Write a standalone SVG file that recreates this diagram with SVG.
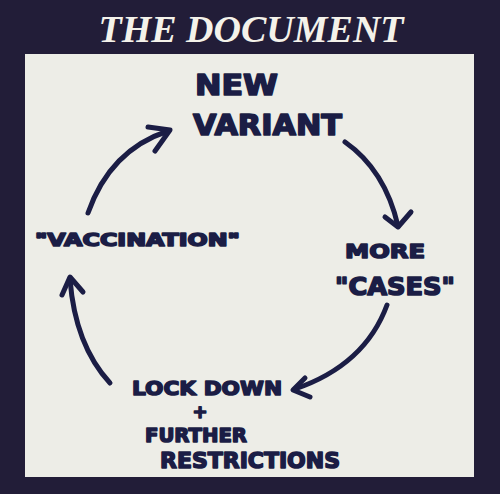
<svg xmlns="http://www.w3.org/2000/svg" width="500" height="494" viewBox="0 0 500 494">
  <style>
    .hand { font-family: "DejaVu Sans", "Liberation Sans", sans-serif; font-weight: bold; fill: #1b1d45; stroke: #1b1d45; stroke-width: 1.6; stroke-linejoin: round; }
    .title { font-family: "Liberation Serif", "Times New Roman", serif; font-weight: bold; font-style: italic; font-size: 38px; fill: #f4f2ea; }
    .arrow { fill: none; stroke: #1b1d45; stroke-width: 5; stroke-linecap: round; stroke-linejoin: round; }
  </style>
  <rect width="500" height="494" fill="#221d38"/>
  <text class="title" x="251" y="42" text-anchor="middle">THE DOCUMENT</text>
  <rect x="25" y="54" width="449" height="423" fill="#edede7"/>

  <g id="connectors">
    <path class="arrow" d="M88,213 Q110,150 168,131"/>
    <path class="arrow" d="M148,127 L170,130 L155,151"/>
    <path class="arrow" d="M345,142 Q385,170 398,226"/>
    <path class="arrow" d="M385,217 L398,227 L411,212"/>
    <path class="arrow" d="M387,305 Q365,365 295,389"/>
    <path class="arrow" d="M305,378 L293,390 L310,397"/>
    <path class="arrow" d="M110,383 Q75,345 70,279"/>
    <path class="arrow" d="M62,295 L70,277 L83,292"/>
  </g>

  <g id="node-new-variant">
    <text class="hand" x="195" y="95" font-size="28" textLength="83" lengthAdjust="spacingAndGlyphs">NEW</text>
    <text class="hand" x="193" y="135" font-size="28" textLength="149" lengthAdjust="spacingAndGlyphs">VARIANT</text>
  </g>
  <g id="node-more-cases">
    <text class="hand" x="345" y="258" font-size="20" textLength="80" lengthAdjust="spacingAndGlyphs">MORE</text>
    <text class="hand" x="335" y="295" font-size="24" textLength="120" lengthAdjust="spacingAndGlyphs">"CASES"</text>
  </g>
  <g id="node-lockdown">
    <text class="hand" x="132" y="395" font-size="20" textLength="150" lengthAdjust="spacingAndGlyphs">LOCK DOWN</text>
    <text class="hand" x="200" y="418" font-size="18" text-anchor="middle">+</text>
    <text class="hand" x="145" y="442" font-size="20" textLength="102" lengthAdjust="spacingAndGlyphs">FURTHER</text>
    <text class="hand" x="160" y="468" font-size="22" textLength="180" lengthAdjust="spacingAndGlyphs">RESTRICTIONS</text>
  </g>
  <g id="node-vaccination">
    <text class="hand" x="35" y="246" font-size="17" textLength="205" lengthAdjust="spacingAndGlyphs">"VACCINATION"</text>
  </g>
</svg>
